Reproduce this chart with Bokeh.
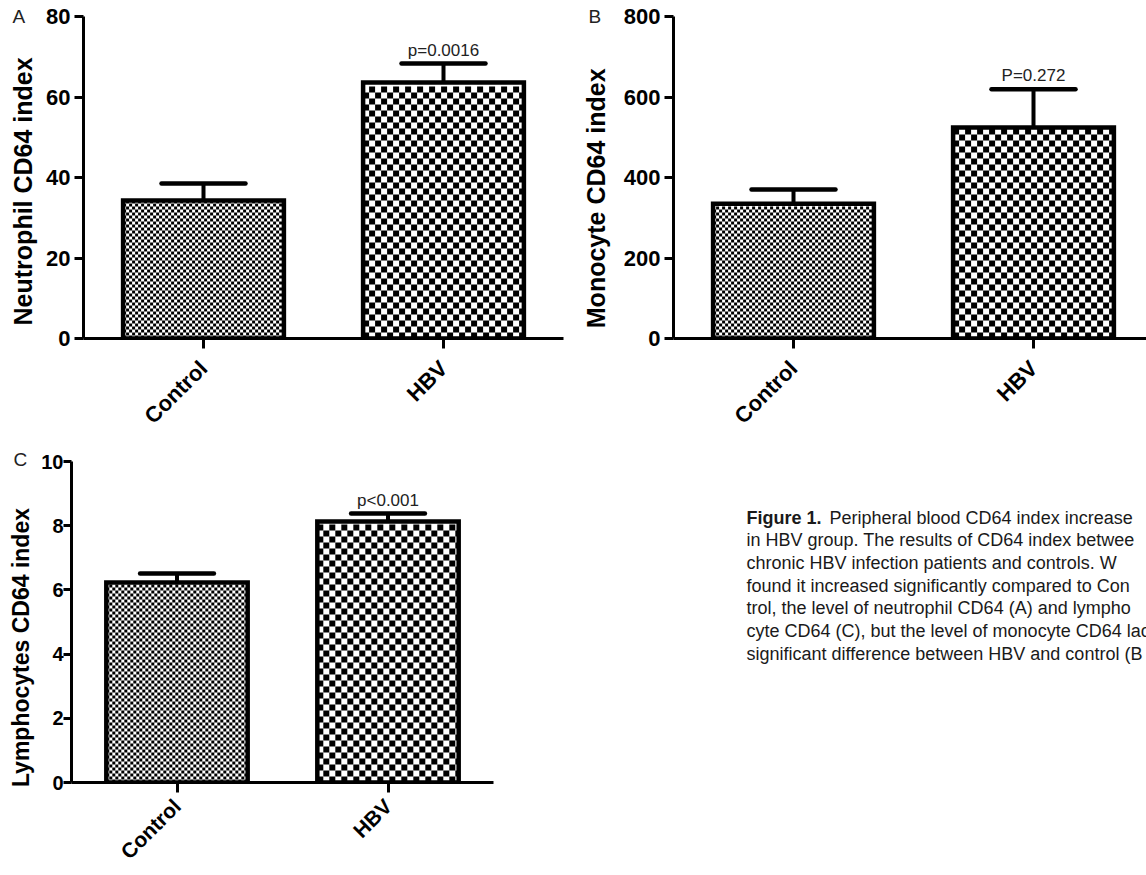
from math import pi
from bokeh.plotting import figure
from bokeh.models import ColumnDataSource, Range1d, FixedTicker, Title
from bokeh.layouts import row, column
from bokeh.embed import file_html
from bokeh.resources import INLINE
from bokeh.core.properties import value

# ---------------- data ----------------
categories = ["Control", "HBV"]

neutrophil_mean = [34.3, 63.6]
neutrophil_sem = [4.2, 4.7]

monocyte_mean = [335, 524]
monocyte_sem = [35, 95]

lymphocyte_mean = [6.23, 8.13]
lymphocyte_sem = [0.28, 0.25]

p_texts = ["p=0.0016", "P=0.272", "p<0.001"]
panel_letters = ["A", "B", "C"]
y_titles = ["Neutrophil CD64 index", "Monocyte CD64 index", "Lymphocytes CD64 index"]

ticks_A = [0, 20, 40, 60, 80]
ticks_B = [0, 200, 400, 600, 800]
ticks_C = [0, 2, 4, 6, 8, 10]

caption_bold = "Figure 1."
caption_lines = [
    "Peripheral blood CD64 index increase",
    "in HBV group. The results of CD64 index betwee",
    "chronic HBV infection patients and controls. W",
    "found it increased significantly compared to Con",
    "trol, the level of neutrophil CD64 (A) and lympho",
    "cyte CD64 (C), but the level of monocyte CD64 lac",
    "significant difference between HBV and control (B",
]

# ---------------- style ----------------
FONT = "Liberation Sans"
BAR_W = 0.67
CAP_W = 0.35
CELLS = [3, 6]          # checker cell size (px) for Control / HBV
NBSP = "\u00a0"


def checker_rows(xc, top, cell, ppx, ppy, parity):
    """Every other row of a checkerboard fill inside one bar (rows are dashed strokes)."""
    left, right = xc - BAR_W / 2, xc + BAR_W / 2
    n_rows = int(top * ppy // cell)
    rows = [j for j in range(n_rows) if j % 2 == parity]
    x0 = [left + (cell / ppx if parity else 0.0)] * len(rows)
    x1 = [right] * len(rows)
    y = [(j + 0.5) * cell / ppy for j in rows]
    return x0, x1, y


def panel(means, sems, ticks, ytitle, letter, ptext, width, height, x_end, borders,
          letter_off, letter_standoff, ytitle_size, label_standoff, ytick_size, tick_standoff,
          tick_out, xlab_size, xlab_standoff):
    left, right, top, bottom = borders
    ymax = ticks[-1]
    p = figure(width=width, height=height, output_backend="svg", toolbar_location=None,
               x_range=Range1d(0, x_end), y_range=Range1d(0, ymax),
               min_border_left=left, min_border_right=right,
               min_border_top=top, min_border_bottom=bottom)
    p.outline_line_color = None
    p.xgrid.visible = False
    p.ygrid.visible = False
    p.background_fill_color = "white"
    p.border_fill_color = "white"

    ppx = (width - left - right) / x_end
    ppy = (height - top - bottom) / ymax

    xs = [i + 0.5 for i in range(len(categories))]
    tops_err = [m + s for m, s in zip(means, sems)]
    src = ColumnDataSource(dict(
        x=xs, top=means, err=tops_err,
        cl=[x - CAP_W / 2 for x in xs], cr=[x + CAP_W / 2 for x in xs],
    ))

    # white bar body
    p.vbar(x="x", top="top", bottom=0, width=BAR_W, source=src, fill_color="white",
           line_color=None)
    # checkerboard fill
    for k, cell in enumerate(CELLS):
        for parity in (0, 1):
            x0, x1, y = checker_rows(xs[k], means[k], cell, ppx, ppy, parity)
            p.segment(x0=x0, x1=x1, y0=y, y1=y, line_color="black", line_width=cell,
                      line_cap="butt", line_dash=f"{cell} {cell}")
    # error bars (upper only)
    p.segment(x0="x", y0="top", x1="x", y1="err", source=src, line_color="black", line_width=4)
    p.segment(x0="cl", y0="err", x1="cr", y1="err", source=src, line_color="black",
              line_width=4.5, line_cap="round")
    # bar outline
    p.vbar(x="x", top="top", bottom=0, width=BAR_W, source=src, fill_color=None,
           line_color="black", line_width=4.5, line_join="miter")

    # p-value label above the HBV bar
    p.text(x=[xs[1]], y=[tops_err[1]], text=[ptext], text_align="center",
           text_baseline="bottom", y_offset=-4, text_font=value(FONT),
           text_font_size="17px", text_color="#222222")

    # panel letter
    p.add_layout(Title(text=letter, align="left", offset=letter_off, vertical_align="bottom",
                       standoff=letter_standoff, text_font=FONT, text_font_size="19px",
                       text_font_style="normal", text_color="#222222"), "above")

    # axes
    ya = p.yaxis[0]
    ya.ticker = FixedTicker(ticks=ticks)
    ya.axis_label = ytitle
    ya.axis_label_text_font = FONT
    ya.axis_label_text_font_style = "bold"
    ya.axis_label_text_font_size = ytitle_size
    ya.axis_label_text_color = "black"
    ya.axis_label_standoff = label_standoff
    ya.major_label_text_font = FONT
    ya.major_label_text_font_style = "bold"
    ya.major_label_text_font_size = ytick_size
    ya.major_label_text_color = "black"
    ya.major_label_standoff = tick_standoff
    ya.axis_line_width = 3
    ya.major_tick_line_width = 3
    ya.major_tick_out = tick_out
    ya.major_tick_in = 0
    ya.minor_tick_out = 0
    ya.minor_tick_in = 0

    xa = p.xaxis[0]
    xa.ticker = FixedTicker(ticks=xs)
    xa.major_label_overrides = {x: c for x, c in zip(xs, categories)}
    xa.major_label_orientation = pi / 4
    xa.major_label_text_font = FONT
    xa.major_label_text_font_style = "bold"
    xa.major_label_text_font_size = xlab_size
    xa.major_label_text_color = "black"
    xa.major_label_standoff = xlab_standoff
    xa.axis_line_width = 3
    xa.major_tick_line_width = 3
    xa.major_tick_out = 10
    xa.major_tick_in = 0
    xa.minor_tick_out = 0
    xa.minor_tick_in = 0
    return p


pA = panel(neutrophil_mean, neutrophil_sem, ticks_A, y_titles[0] + NBSP * 4, panel_letters[0],
           p_texts[0], 570, 440, 2.0, (83, 7, 16, 102),
           -71, -20, "25px", 6, "22px", 4, 9, "22px", 16)
pB = panel(monocyte_mean, monocyte_sem, ticks_B, y_titles[1] + NBSP * 6, panel_letters[1],
           p_texts[1], 576, 440, 473 / 240, (103, 0, 16, 102),
           -85, -20, "25px", 11, "22px", 4, 9, "22px", 16)
pC = panel(lymphocyte_mean, lymphocyte_sem, ticks_C, y_titles[2] + NBSP * 8, panel_letters[2],
           p_texts[2], 570, 435, 2.0, (71, 77, 21, 93),
           -58, -16, "23px", 4, "20px", 0, 8, "21px", 10)

# caption panel (its frame spans page x 673..1146, y 461..782; coordinates are page pixels)
pCap = figure(width=576, height=435, output_backend="svg", toolbar_location=None,
              x_range=Range1d(673, 1146), y_range=Range1d(782, 461),
              x_axis_location=None, y_axis_location=None,
              min_border_left=103, min_border_right=0, min_border_top=21, min_border_bottom=93)
pCap.outline_line_color = None
pCap.xgrid.visible = False
pCap.ygrid.visible = False
pCap.border_fill_color = "white"

line_y = [517 + 22.7 * i for i in range(len(caption_lines))]
line_x = [829] + [746] * (len(caption_lines) - 1)
pCap.text(x=line_x, y=line_y, text=caption_lines, text_font=value(FONT),
          text_font_size="18px", text_color="#1a1a1a", text_baseline="middle", text_align="left")
pCap.text(x=[746], y=[line_y[0]], text=[caption_bold], text_font=value(FONT),
          text_font_style="bold", text_font_size="18px", text_color="#1a1a1a",
          text_baseline="middle", text_align="left")

layout = column(row(pA, pB), row(pC, pCap))
open("out.html", "w").write(file_html(layout, INLINE))
